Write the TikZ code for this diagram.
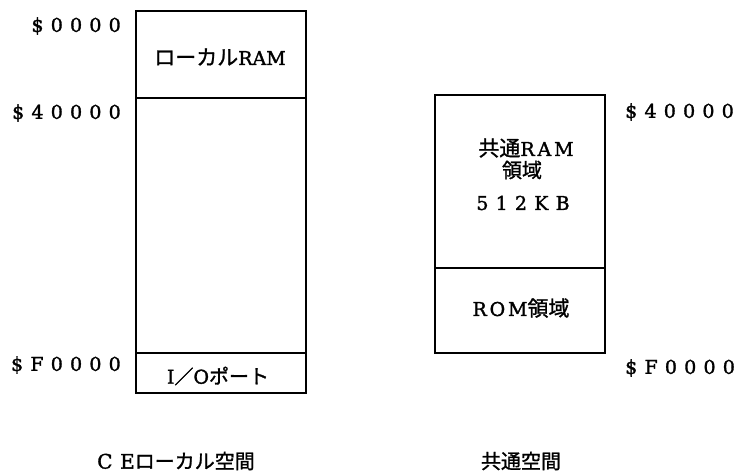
\documentclass[tikz,border=0pt]{standalone}
\usepackage{fontspec}
\setmainfont{DejaVu Serif}
\newfontfamily\jpn[FakeBold=1.2]{Noto Sans CJK JP}
\newfontfamily\lat[FakeBold=1.5]{DejaVu Serif}
\newfontfamily\latm[LetterSpace=15,FakeBold=1.5]{DejaVu Serif}
\newfontfamily\latw[LetterSpace=38,FakeBold=1.6]{DejaVu Serif}
\newcommand{\Jp}[1]{{\jpn #1}}
\newcommand{\Lt}[1]{{\lat #1}}
\newcommand{\Lm}[1]{{\latm #1}}
\newcommand{\Lw}[1]{{\latw #1}}
\begin{document}
\begin{tikzpicture}[x=1pt,y=-1pt,
  cell/.style={draw, line width=2pt, minimum width=170pt, inner sep=0pt, outer sep=0pt},
  addr/.style={font=\fontsize{19}{22}\selectfont\latw, inner sep=0pt},
  lbl/.style={font=\fontsize{19}{22}\selectfont, inner sep=0pt, align=center},
  captxt/.style={font=\fontsize{20}{24}\selectfont, inner sep=0pt}]
\useasboundingbox (0,0) rectangle (743,472);
% left column
\node[cell, minimum height=87pt] (lram) at (221,54.5) {};
\node[cell, minimum height=255pt] (lmid) at (221,225.5) {};
\node[cell, minimum height=40pt] (lio) at (221,373) {};
\node[lbl] (tlram) at (220,57) {{\fontsize{21}{22}\selectfont\Jp{ローカル}}\Lt{RAM}};
\node[lbl] (tlio) at (218,376) {\Lm{I}\Jp{／}\Lt{O}{\fontsize{20}{22}\selectfont\Jp{ポート}}};
% right column
\node[cell, minimum height=173pt] (cram) at (520,181.5) {};
\node[cell, minimum height=85pt] (crom) at (520,310.5) {};
\node[lbl] (tcram1) at (526,148) {{\fontsize{21}{22}\selectfont\Jp{共通}}\Lm{RAM}};
\node[lbl, font=\fontsize{20}{22}\selectfont] (tcram2) at (522,170) {\Jp{領域}};
\node[lbl, font=\fontsize{19}{22}\selectfont\latw] (tcram3) at (523,203) {512KB};
\node[lbl] (tcrom) at (521,308) {\Lm{ROM}{\fontsize{21}{22}\selectfont\Jp{領域}}};
% addresses
\node[addr, anchor=east] (a0) at (121,26) {\$0000};
\node[addr, anchor=east] (a4) at (121,113) {\$40000};
\node[addr, anchor=east] (af) at (121,365) {\$F0000};
\node[addr, anchor=west] (b4) at (625,112) {\$40000};
\node[addr, anchor=west] (bf) at (625,368) {\$F0000};
% captions
\node[captxt] (c1) at (176,461) {\Lw{CE}\Jp{ローカル空間}};
\node[captxt] (c2) at (521,461) {\Jp{共通空間}};
\end{tikzpicture}
\end{document}
